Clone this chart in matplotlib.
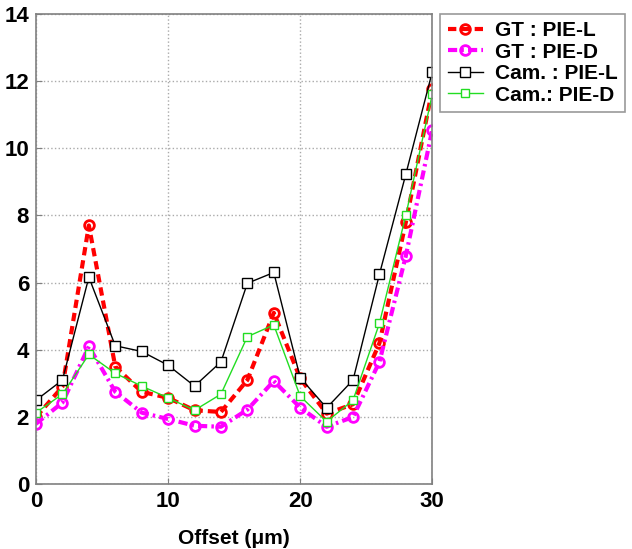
import matplotlib.pyplot as plt

plt.rcParams['font.family'] = ['Liberation Sans', 'DejaVu Sans']
plt.rcParams['font.weight'] = 'bold'

offset = [0, 2, 4, 6, 8, 10, 12, 14, 16, 18, 20, 22, 24, 26, 28, 30]
gt_pie_l = [2.0, 2.9, 7.7, 3.5, 2.75, 2.57, 2.2, 2.15, 3.1, 5.1, 3.15, 2.1, 2.38, 4.2, 7.8, 11.75]
gt_pie_d = [1.8, 2.43, 4.1, 2.75, 2.13, 1.94, 1.74, 1.71, 2.22, 3.07, 2.28, 1.71, 2.0, 3.64, 6.8, 10.55]
cam_pie_l = [2.5, 3.1, 6.16, 4.12, 3.95, 3.54, 2.92, 3.64, 5.98, 6.3, 3.17, 2.27, 3.1, 6.25, 9.23, 12.27]
cam_pie_d = [2.13, 2.68, 3.86, 3.3, 2.92, 2.57, 2.2, 2.68, 4.39, 4.74, 2.62, 1.86, 2.5, 4.79, 8.01, 11.6]

fig = plt.figure(figsize=(6.32, 5.49), dpi=100)
ax = fig.add_axes([0.057, 0.118, 0.627, 0.857])

ax.plot(offset, gt_pie_l, color='red', ls=(0, (2, 1.2)), lw=3, marker='o', ms=7,
        mfc='none', mew=2, label='GT : PIE-L')
ax.plot(offset, gt_pie_d, color='magenta', ls=(0, (2.2, 1, 0.6, 1)), lw=3, marker='o', ms=7,
        mfc='none', mew=2, label='GT : PIE-D')
ax.plot(offset, cam_pie_l, color='black', ls='-', lw=1, marker='s', ms=7,
        mfc='white', mew=1, label='Cam. : PIE-L')
ax.plot(offset, cam_pie_d, color='#22dd22', ls='-', lw=1, marker='s', ms=6,
        mfc='white', mew=1, label='Cam.: PIE-D')

ax.set_xlim(0, 30)
ax.set_ylim(0, 14)
ax.set_xticks([0, 10, 20, 30])
ax.set_yticks(range(0, 15, 2))
ax.tick_params(labelsize=16, direction='in', length=4, color='gray', pad=5)
ax.grid(True, ls=':', color='#aaaaaa', lw=1)
for s in ax.spines.values():
    s.set_color('gray')
    s.set_linewidth(1.2)

ax.set_xlabel('Offset (\u03bcm)', fontsize=15, fontweight='bold', labelpad=12)

leg = ax.legend(loc='upper left', bbox_to_anchor=(1.02, 1.0), fontsize=15,
                frameon=True, fancybox=False, edgecolor='gray',
                handlelength=1.7, handletextpad=0.6, borderaxespad=0,
                labelspacing=0.12, borderpad=0.35, numpoints=1)
leg.get_frame().set_linewidth(1.2)

fig.savefig('out.png', dpi=100)
